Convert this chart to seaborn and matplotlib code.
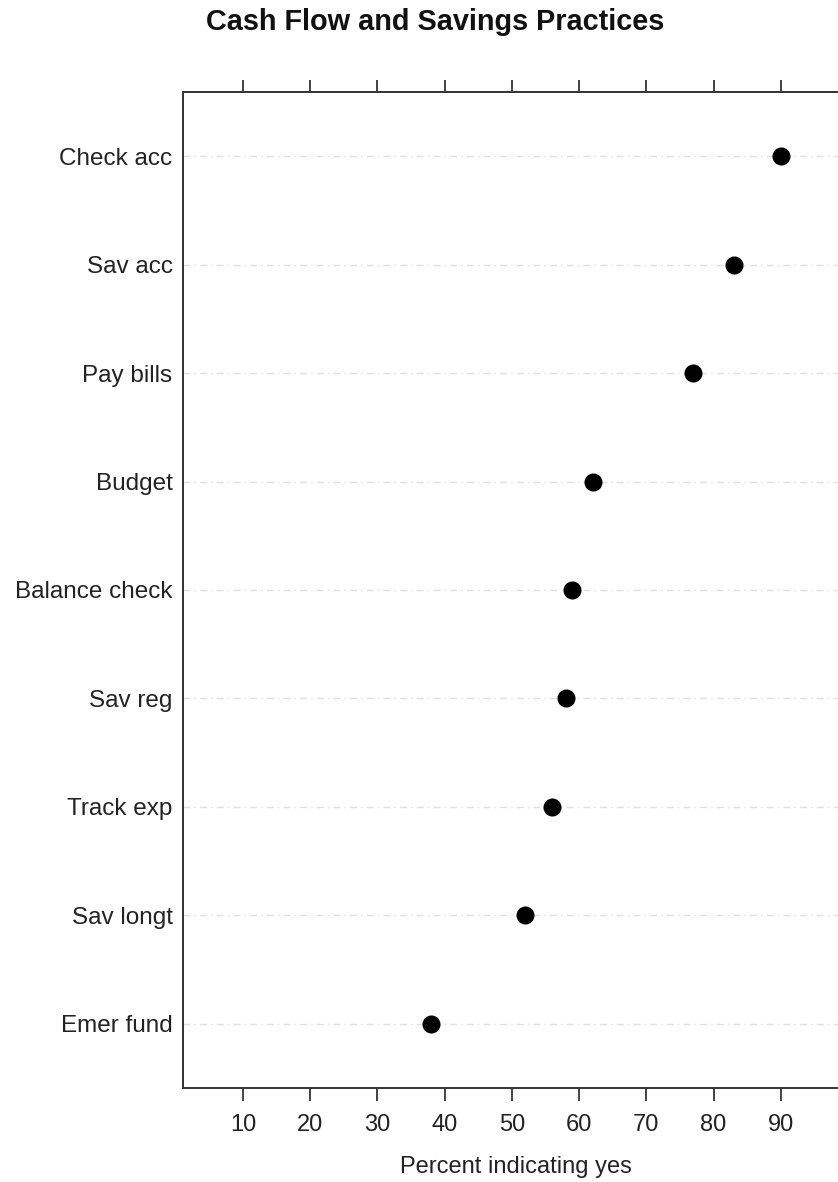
import matplotlib
matplotlib.use("Agg")
import matplotlib.pyplot as plt
import seaborn as sns
import pandas as pd

practices = ["Check acc", "Sav acc", "Pay bills", "Budget", "Balance check",
             "Sav reg", "Track exp", "Sav longt", "Emer fund"]
percent_yes = [90, 83, 77, 62, 59, 58, 56, 52, 38]
x_ticks = [10, 20, 30, 40, 50, 60, 70, 80, 90]

sns.set_theme(style="white")
plt.rcParams['font.family'] = ['Liberation Sans', 'DejaVu Sans']

df = pd.DataFrame({"practice": practices, "percent": percent_yes})

fig = plt.figure(figsize=(8.38, 11.82), dpi=100)
# axes runs past the right edge like the cropped original
ax = fig.add_axes([183 / 838, 1 - 1088 / 1182, (848 - 183) / 838, (1088 - 92) / 1182])

for i in range(len(practices)):
    ax.axhline(i, color="#e0e0e0", lw=1, dashes=(5, 3, 1, 3), zorder=0)

sns.stripplot(data=df, x="percent", y="practice", order=practices, jitter=False,
              color="black", size=13, linewidth=0, ax=ax, zorder=3)

ax.set_xlim(1.08, 100)
ax.set_ylim(len(practices) - 1 + 0.59, -0.59)
ax.set_xticks(x_ticks)
ax.set_xticklabels([str(t) for t in x_ticks])
ax.tick_params(axis="x", which="both", top=True, bottom=True, labeltop=False,
               direction="out", length=9, width=1.3, color="#333333",
               labelsize=17, pad=10, labelcolor="#222222")
ax.tick_params(axis="y", left=False, length=0, labelsize=17.5, pad=7.5,
               labelcolor="#222222")
for s in ax.spines.values():
    s.set_color("#333333")
    s.set_linewidth(1.4)

ax.set_xlabel("Percent indicating yes", fontsize=17, labelpad=14, color="#222222")
ax.set_ylabel("")
fig.text(435 / 838, 1 - 22 / 1182, "Cash Flow and Savings Practices",
         ha="center", va="center", fontsize=20.8, fontweight="bold", color="#111111")

fig.savefig("out.png", dpi=100)
